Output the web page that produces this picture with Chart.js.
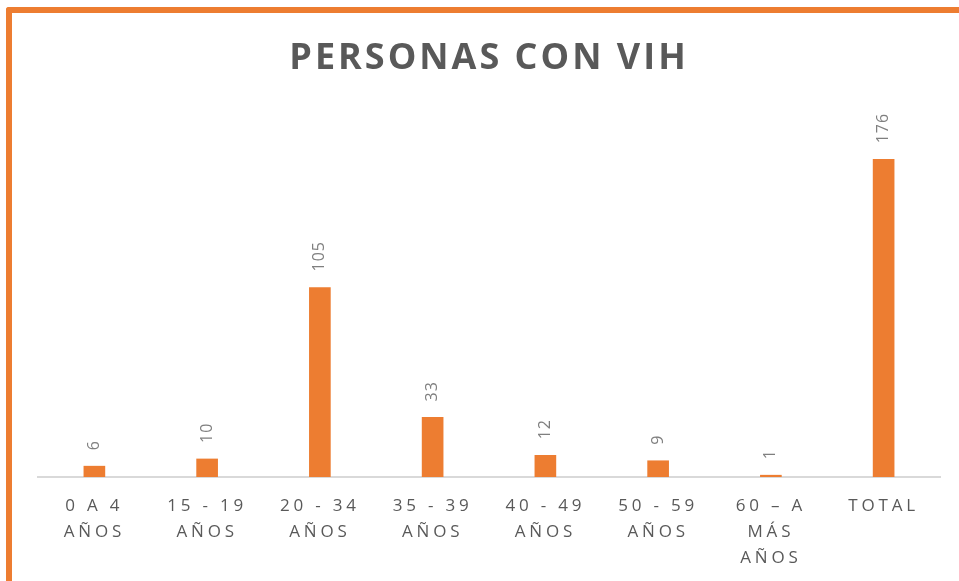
<!DOCTYPE html>
<html>
<head>
<meta charset="utf-8">
<script src="https://cdn.jsdelivr.net/npm/chart.js@4"></script>
<style>
  html, body { margin: 0; padding: 0; background: #fff; overflow: hidden; }
  #wrap { position: relative; width: 959px; height: 581px; }
  #marco {
    position: absolute; left: 6px; top: 7px; width: 1200px; height: 900px;
    border-left: 6px solid #ED7D31; border-top: 6px solid #ED7D31;
    border-top-left-radius: 3px; pointer-events: none;
  }
</style>
</head>
<body>
<div id="wrap">
  <canvas id="vihChart"></canvas>
  <div id="marco"></div>
</div>
<script>
// Datos del gráfico
const titulo = "PERSONAS CON VIH";
const grupos = [
  ["0 A 4", "AÑOS"],
  ["15 - 19", "AÑOS"],
  ["20 - 34", "AÑOS"],
  ["35 - 39", "AÑOS"],
  ["40 - 49", "AÑOS"],
  ["50 - 59", "AÑOS"],
  ["60 – A", "MÁS", "AÑOS"],
  ["TOTAL"]
];
const personas = [6, 10, 105, 33, 12, 9, 1, 176];

const naranja = "#ED7D31";
const grisTexto = "#595959";

// Espaciado de letras, título y etiquetas de datos
const estiloPlugin = {
  id: "estilo",
  beforeDraw(chart) {
    chart.ctx.letterSpacing = "3.8px";
  },
  afterDatasetsDraw(chart) {
    const ctx = chart.ctx;
    const meta = chart.getDatasetMeta(0);
    ctx.save();
    ctx.letterSpacing = "1px";
    ctx.font = "16px 'Open Sans'";
    ctx.fillStyle = "#7F7F7F";
    ctx.textAlign = "left";
    ctx.textBaseline = "middle";
    meta.data.forEach((bar, i) => {
      ctx.save();
      ctx.translate(bar.x, bar.y - 16);
      ctx.rotate(-Math.PI / 2);
      ctx.fillText(String(personas[i]), 0, 0);
      ctx.restore();
    });
    ctx.restore();
  },
  afterDraw(chart) {
    const ctx = chart.ctx;
    ctx.save();
    ctx.letterSpacing = "3px";
    ctx.font = "bold 36px 'Open Sans'";
    ctx.fillStyle = grisTexto;
    ctx.textAlign = "center";
    ctx.textBaseline = "middle";
    ctx.fillText(titulo, 489, 59);
    ctx.restore();
    ctx.letterSpacing = "0px";
  }
};

new Chart(document.getElementById("vihChart"), {
  type: "bar",
  data: {
    labels: grupos,
    datasets: [{
      label: titulo,
      data: personas,
      backgroundColor: naranja,
      barThickness: 21
    }]
  },
  options: {
    responsive: true,
    maintainAspectRatio: false,
    animation: false,
    layout: { padding: { left: 38, right: 19, top: 116, bottom: 0 } },
    scales: {
      y: { display: false, min: 0, max: 200 },
      x: {
        grid: { display: false },
        border: { display: true, color: "#D9D9D9", width: 2 },
        ticks: {
          color: grisTexto,
          font: { family: "'Open Sans'", size: 17, lineHeight: 1.53 },
          padding: 8,
          maxRotation: 0,
          autoSkip: false
        },
        afterFit(scale) { scale.height = 104; }
      }
    },
    plugins: {
      legend: { display: false },
      tooltip: { enabled: false }
    }
  },
  plugins: [estiloPlugin]
});
</script>
</body>
</html>
